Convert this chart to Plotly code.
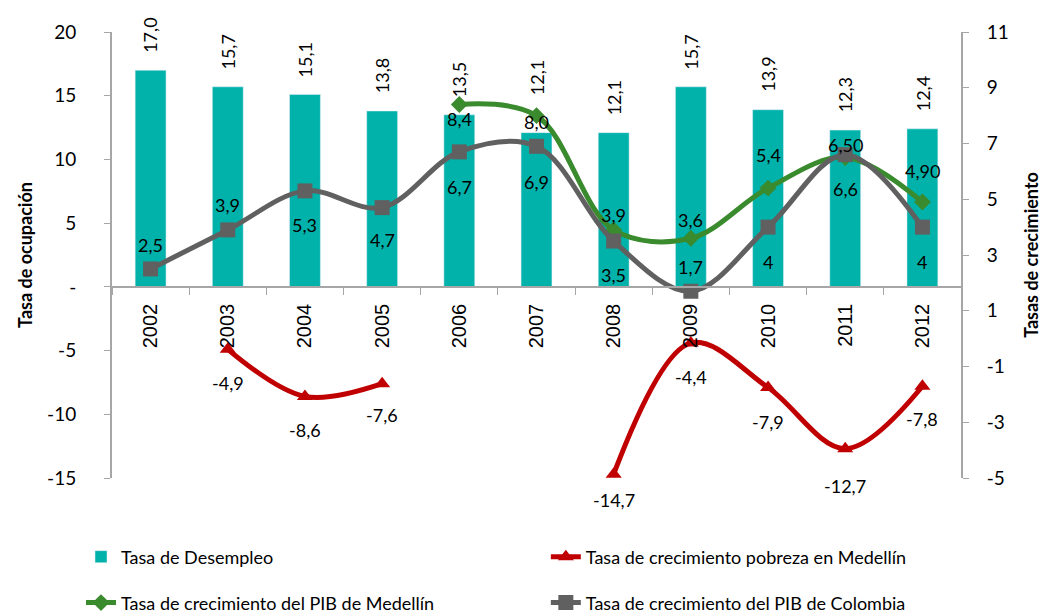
import plotly.graph_objects as go

# Datos
years = ["2002", "2003", "2004", "2005", "2006", "2007", "2008", "2009", "2010", "2011", "2012"]
desempleo = [17.0, 15.7, 15.1, 13.8, 13.5, 12.1, 12.1, 15.7, 13.9, 12.3, 12.4]
pobreza = [None, -4.9, -8.6, -7.6, None, None, -14.7, -4.4, -7.9, -12.7, -7.8]
pib_medellin = [None, None, None, None, 8.4, 8.0, 3.9, 3.6, 5.4, 6.5, 4.9]
pib_medellin_txt = ["", "", "", "", "8,4", "8,0", "3,9", "3,6", "5,4", "6,50", "4,90"]
pib_colombia = [2.5, 3.9, 5.3, 4.7, 6.7, 6.9, 3.5, 1.7, 4, 6.6, 4]

left_ticks = [-15, -10, -5, 0, 5, 10, 15, 20]
left_ticktext = ["-15", "-10", "-5", "-", "5", "10", "15", "20"]
right_ticks = [-5, -3, -1, 1, 3, 5, 7, 9, 11]

# desplazamiento de las etiquetas en px (positivo = arriba), como en el original
bar_lbl_dy = [35, 35, 35, 35, 35, 55, 35, 35, 35, 35, 35]
pob_lbl_dy = [0, -34, -34, -31, 0, 0, -26, -34, -34, -37, -33]
med_lbl_dy = [0, 0, 0, 0, -15, -6, 15, 18, 33, 12, 31]
col_lbl_dy = [24, 25, -34, -32, -35, -36, -34, 24, -35, -34, -35]

FONT = "Lato, 'Open Sans', sans-serif"
AXIS_GRAY = "#A6A6A6"


def fmt(v):
    # etiqueta con coma decimal y guion simple
    return "" if v is None else f"{v:.1f}".replace(".", ",")


def add_labels(fig, values, texts, dys, yref="y", angle=0):
    for i, (v, t, dy) in enumerate(zip(values, texts, dys)):
        if v is None or t == "":
            continue
        fig.add_annotation(
            x=i, y=v, yref=yref, text=t, textangle=angle, showarrow=False,
            yanchor="middle", yshift=dy,
            font=dict(size=18, color="black"),
        )


fig = go.Figure()

fig.add_trace(go.Bar(
    x=years, y=desempleo, name="Tasa de Desempleo",
    marker_color="#00B2AA", width=0.4,
    legend="legend", showlegend=True,
))

fig.add_trace(go.Scatter(
    x=years, y=pobreza, name="Tasa de crecimiento pobreza en Medellín",
    mode="lines+markers", line=dict(color="#C00000", width=5, shape="spline"),
    marker=dict(symbol="triangle-up", size=14, color="#C00000"),
    connectgaps=False, cliponaxis=False,
    legend="legend2",
))

fig.add_trace(go.Scatter(
    x=years, y=pib_medellin, name="Tasa de crecimiento del PIB de Medellín",
    yaxis="y2", mode="lines+markers",
    line=dict(color="#3A8A2E", width=5, shape="spline"),
    marker=dict(symbol="diamond", size=13, color="#3A8A2E"),
    cliponaxis=False,
    legend="legend3",
))

fig.add_trace(go.Scatter(
    x=years, y=pib_colombia, name="Tasa de crecimiento del PIB de Colombia",
    yaxis="y2", mode="lines+markers",
    line=dict(color="#606060", width=5, shape="spline"),
    marker=dict(symbol="square", size=15, color="#606060"),
    cliponaxis=False,
    legend="legend4",
))

# etiquetas de datos
add_labels(fig, desempleo, [fmt(v) for v in desempleo], bar_lbl_dy, angle=-90)
add_labels(fig, pobreza, [fmt(v) for v in pobreza], pob_lbl_dy)
add_labels(fig, pib_medellin, pib_medellin_txt, med_lbl_dy, yref="y2")
add_labels(fig, pib_colombia, [str(v).replace(".", ",") for v in pib_colombia],
           col_lbl_dy, yref="y2")

legend_common = dict(xanchor="left", yanchor="middle", font=dict(size=18),
                     bgcolor="rgba(0,0,0,0)", borderwidth=0)

fig.update_layout(
    width=1046, height=613,
    margin=dict(l=112, r=85, t=32, b=135, autoexpand=False),
    plot_bgcolor="white", paper_bgcolor="white",
    font=dict(family=FONT, size=18, color="black"),
    separators=",.",
    showlegend=True,
    xaxis=dict(
        type="category", range=[-0.5, len(years) - 0.5],
        anchor="free", position=15 / 35,
        showline=True, linecolor=AXIS_GRAY, linewidth=2,
        ticks="outside", tickson="boundaries", ticklen=7, tickcolor=AXIS_GRAY,
        tickangle=-90, ticklabelstandoff=8,
        tickfont=dict(family="'Liberation Sans', Arial, sans-serif", size=20),
        showgrid=False, zeroline=False, automargin=False,
    ),
    yaxis=dict(
        range=[-15, 20], tickvals=left_ticks, ticktext=left_ticktext,
        showline=True, linecolor=AXIS_GRAY, linewidth=2,
        ticks="outside", ticklen=6, tickcolor=AXIS_GRAY, ticklabelstandoff=24,
        showgrid=False, zeroline=False, automargin=False,
        tickfont=dict(size=19),
        title=dict(text="<b>Tasa de ocupación</b>", font=dict(size=18), standoff=10),
    ),
    yaxis2=dict(
        range=[-5, 11], tickvals=right_ticks,
        ticktext=[str(t) for t in right_ticks],
        overlaying="y", side="right",
        showline=True, linecolor=AXIS_GRAY, linewidth=2,
        ticks="outside", ticklen=6, tickcolor=AXIS_GRAY, ticklabelstandoff=14,
        showgrid=False, zeroline=False, automargin=False,
        tickfont=dict(size=19),
        title=dict(text="<b>Tasas de crecimiento</b>", font=dict(size=18), standoff=18),
    ),
    legend=dict(x=-0.0365, y=-0.177, **legend_common),
    legend2=dict(x=0.511, y=-0.177, **legend_common),
    legend3=dict(x=-0.0365, y=-0.28, **legend_common),
    legend4=dict(x=0.511, y=-0.28, **legend_common),
)

fig.write_html("out.html", config={"displayModeBar": False},
               post_script="document.body.style.margin='0';")
